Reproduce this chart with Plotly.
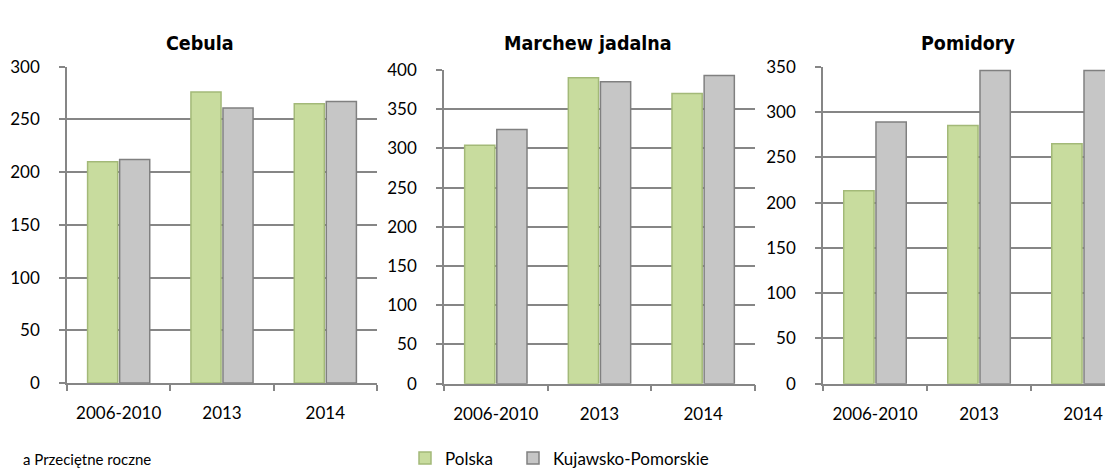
import plotly.graph_objects as go

categories = ["2006-2010", "2013", "2014"]
series_names = ["Polska", "Kujawsko-Pomorskie"]

cebula_polska = [210, 276, 265]
cebula_kp = [212, 261, 267]
marchew_polska = [304, 390, 370]
marchew_kp = [324, 385, 393]
pomidory_polska = [213, 285, 265]
pomidory_kp = [289, 346, 346]

panel_titles = ["Cebula", "Marchew jadalna", "Pomidory"]
footnote = "a Przeciętne roczne"

W, H = 1113, 470
GREEN = "#c8dc9e"
GREEN_EDGE = "#a3b978"
GREY = "#c6c6c6"
GREY_EDGE = "#808080"
AXIS = "#868686"
TICKFONT = dict(family="Lato, 'Open Sans', sans-serif", size=17, color="#000000")
LEGFONT = dict(family="Lato, 'Open Sans', sans-serif", size=17, color="#000000")

fig = go.Figure()

panels = [
    (cebula_polska, cebula_kp, "x", "y"),
    (marchew_polska, marchew_kp, "x2", "y2"),
    (pomidory_polska, pomidory_kp, "x3", "y3"),
]
for i, (pl, kp, xa, ya) in enumerate(panels):
    fig.add_trace(go.Bar(x=categories, y=pl, name=series_names[0], xaxis=xa, yaxis=ya,
                         marker=dict(color=GREEN, line=dict(color=GREEN_EDGE, width=1.5)),
                         showlegend=(i == 0), legend="legend"))
    fig.add_trace(go.Bar(x=categories, y=kp, name=series_names[1], xaxis=xa, yaxis=ya,
                         marker=dict(color=GREY, line=dict(color=GREY_EDGE, width=1.5)),
                         showlegend=(i == 0), legend="legend2"))

def px_x(v):
    return v / W

def px_y(v):
    return (H - v) / H

xdoms = [(59, 369), (436, 747), (815, W)]
ydoms = [(381, 50), (381.7, 53.3), (381.7, 50)]
yranges = [[0, 300], [0, 400], [0, 350]]
xranges = [[-0.5, 2.5], [-0.5, 2.5], [-0.5, 2.365]]

layout = dict(
    width=W, height=H,
    margin=dict(l=0, r=0, t=0, b=0),
    paper_bgcolor="white", plot_bgcolor="white",
    barmode="group", bargap=0.38, bargroupgap=0.06,
    showlegend=True,
    legend=dict(orientation="h", x=px_x(397), y=px_y(460), xanchor="left", yanchor="middle",
                font=LEGFONT, bgcolor="rgba(0,0,0,0)", itemwidth=30),
    legend2=dict(orientation="h", x=px_x(505), y=px_y(460), xanchor="left", yanchor="middle",
                 font=LEGFONT, bgcolor="rgba(0,0,0,0)", itemwidth=30),
)
for i in range(3):
    sx = "" if i == 0 else str(i + 1)
    layout["xaxis" + sx] = dict(
        domain=[px_x(xdoms[i][0]), px_x(xdoms[i][1])],
        anchor="y" + sx, type="category", range=xranges[i],
        showline=True, linecolor=AXIS, linewidth=1.5,
        ticks="outside", tickson="boundaries", ticklen=6, tickcolor=AXIS, tickwidth=1.5,
        tickfont=TICKFONT, ticklabelstandoff=14, showgrid=False, zeroline=False,
        fixedrange=True,
    )
    layout["yaxis" + sx] = dict(
        domain=[px_y(ydoms[i][0]), px_y(ydoms[i][1])],
        anchor="x" + sx, range=yranges[i], dtick=50,
        showline=True, linecolor=AXIS, linewidth=1.5,
        ticks="outside", ticklen=6, tickcolor=AXIS, tickwidth=1.5,
        showgrid=True, gridcolor=AXIS, gridwidth=1.5, zeroline=False,
        tickfont=TICKFONT, ticklabelstandoff=16, fixedrange=True,
    )
fig.update_layout(**layout)

title_x = [192, 580, 960]
for t, xc in zip(panel_titles, title_x):
    fig.add_annotation(text="<b>" + t + "</b>", x=px_x(xc), y=px_y(26), xref="paper", yref="paper",
                       xanchor="center", yanchor="middle", showarrow=False,
                       font=dict(family="'Liberation Sans Narrow', 'DejaVu Sans Condensed', 'Arial Narrow', sans-serif",
                                 size=19.5, color="#000000"))

fig.add_annotation(text=footnote, x=px_x(13), y=px_y(461), xref="paper", yref="paper",
                   xanchor="left", yanchor="middle", showarrow=False,
                   font=dict(family="Lato, 'Open Sans', sans-serif", size=15, color="#000000"))

fig.write_html("out.html")
